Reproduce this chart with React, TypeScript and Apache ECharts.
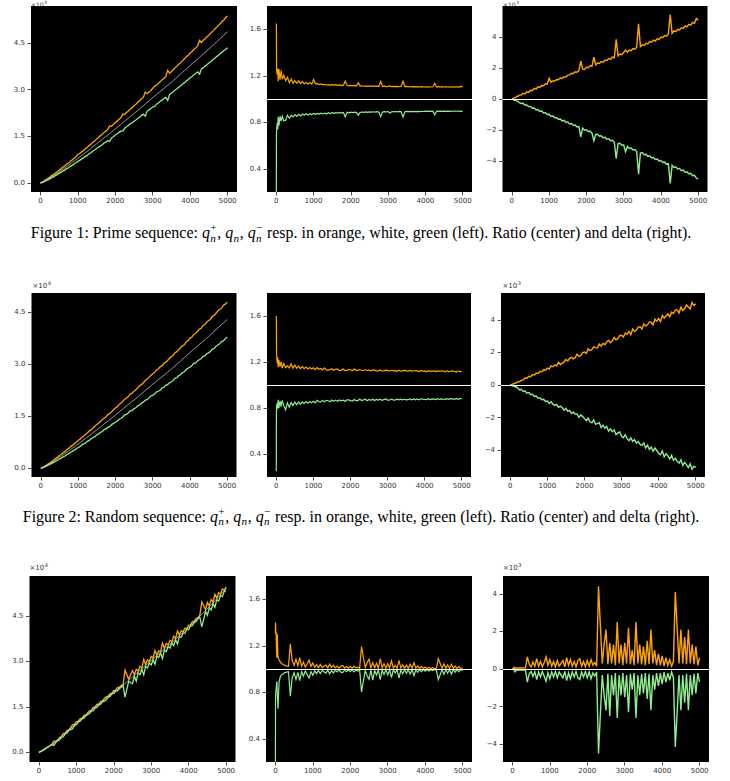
import React, { useEffect, useRef } from "react";
import * as echarts from "echarts";

// sample indices n (shared by all three sequences)
const N = [
  1, 2, 4, 7, 10, 15, 20, 30, 40, 50, 70, 100, 130, 160, 200,
  250, 300, 350, 400, 450, 500, 550, 600, 650, 700, 750, 800, 850, 900, 950, 1000,
  1050, 1100, 1150, 1200, 1250, 1300, 1350, 1400, 1450, 1500,
  1550, 1600, 1650, 1700, 1750, 1800, 1850, 1900, 1950, 2000,
  2050, 2100, 2150, 2200, 2250, 2300, 2350, 2400, 2450, 2500,
  2550, 2600, 2650, 2700, 2750, 2800, 2850, 2900, 2950, 3000,
  3050, 3100, 3150, 3200, 3250, 3300, 3350, 3400, 3450, 3500,
  3550, 3600, 3650, 3700, 3750, 3800, 3850, 3900, 3950, 4000,
  4050, 4100, 4150, 4200, 4250, 4300, 4350, 4400, 4450, 4500,
  4550, 4600, 4650, 4700, 4750, 4800, 4850, 4900, 4950, 5000,
];

// Figure 1: prime sequence q_n and deltas q_n^+ - q_n, q_n^- - q_n
const PRIME_Q = [
  2, 3, 7, 17, 29, 47, 71, 113, 173, 229, 349, 541, 733, 941, 1223,
  1583, 1987, 2357, 2741, 3181, 3571, 3989, 4409, 4831, 5279, 5693, 6133, 6571, 6997, 7477, 7919,
  8369, 8831, 9293, 9739, 10177, 10663, 11113, 11657, 12097, 12553,
  13037, 13499, 13993, 14519, 14947, 15401, 15887, 16381, 16871, 17389,
  17863, 18353, 18839, 19403, 19891, 20359, 20849, 21377, 21841, 22307,
  22817, 23321, 23833, 24391, 24851, 25373, 25913, 26371, 26903, 27449,
  27919, 28411, 28921, 29401, 29927, 30389, 30893, 31397, 31891, 32363,
  32933, 33493, 33997, 34513, 35059, 35617, 36161, 36697, 37253, 37813,
  38351, 38873, 39371, 39901, 40433, 40949, 41491, 42013, 42533, 43051,
  43591, 44201, 44741, 45307, 45863, 46439, 46997, 47527, 48073, 48611,
];
const PRIME_DPLUS = [
  1.3, 1.9, 3, 5, 7, 11, 15, 25, 45, 35, 90, 90, 180, 160, 250,
  250, 370, 330, 470, 430, 560, 540, 690, 640, 790, 750, 870, 850, 980, 960, 1330,
  1090, 1170, 1160, 1260, 1240, 1350, 1320, 1440, 1420, 1540,
  1560, 1660, 1640, 1750, 1720, 1830, 2450, 1920, 1900, 2040,
  2020, 2140, 2110, 2700, 2200, 2320, 2290, 2420, 2380, 2510,
  2480, 2610, 2570, 2700, 2660, 3850, 2780, 2900, 2860, 3000,
  3150, 3020, 3160, 3120, 3250, 3210, 3340, 4850, 3380, 3500,
  3460, 3600, 3560, 3700, 3660, 3800, 3740, 3880, 3840, 3990,
  3950, 4100, 4060, 4200, 5450, 4240, 4390, 4340, 4490, 4450,
  4600, 4560, 4720, 4660, 4820, 4760, 4940, 4880, 5200, 5080,
];
const PRIME_DMINUS = [
  -1.6, -1.5, -2.1, -4.8, -7.5, -11, -16, -23, -45, -35, -80, -80, -140, -140, -230,
  -290, -280, -390, -380, -490, -480, -600, -580, -700, -680, -800, -780, -900, -880, -1000, -980,
  -1120, -1090, -1210, -1190, -1310, -1290, -1410, -1380, -1510, -1480,
  -1610, -1580, -1700, -1680, -1800, -1780, -2450, -1880, -2010, -1980,
  -2100, -2080, -2200, -2700, -2300, -2280, -2400, -2370, -2500, -2470,
  -2590, -2560, -2690, -2660, -2790, -3850, -2880, -2860, -2990, -2960,
  -3400, -3060, -3190, -3160, -3290, -3260, -3390, -4850, -3490, -3460,
  -3600, -3570, -3700, -3670, -3800, -3770, -3900, -3870, -4000, -3970,
  -4100, -4070, -4200, -4170, -5450, -4280, -4410, -4380, -4510, -4480,
  -4620, -4590, -4730, -4700, -4840, -4800, -4950, -4920, -5100, -5150,
];

// Figure 2: random sequence
const RANDOM_Q = [
  2, 4, 8, 15, 24, 40, 58, 96, 145, 195, 300, 470, 640, 820, 1070,
  1390, 1750, 2080, 2410, 2800, 3140, 3510, 3880, 4250, 4650, 5010, 5400, 5780, 6160, 6580, 6970,
  7360, 7770, 8180, 8570, 8960, 9380, 9780, 10260, 10650, 11050,
  11470, 11880, 12310, 12780, 13150, 13550, 13980, 14420, 14850, 15300,
  15720, 16150, 16580, 17070, 17500, 17920, 18350, 18810, 19220, 19630,
  20080, 20520, 20970, 21460, 21870, 22330, 22800, 23210, 23670, 24150,
  24570, 25000, 25450, 25870, 26340, 26740, 27190, 27630, 28060, 28480,
  28980, 29470, 29920, 30370, 30850, 31340, 31820, 32290, 32780, 33280,
  33750, 34210, 34650, 35110, 35580, 36040, 36510, 36970, 37430, 37880,
  38360, 38900, 39370, 39870, 40360, 40870, 41360, 41820, 42300, 42780,
];
const RANDOM_DPLUS = [
  1.2, 2.4, 4, 4.5, 6, 9, 12, 18, 35, 30, 65, 75, 130, 120, 200,
  210, 290, 310, 440, 410, 540, 510, 640, 610, 740, 710, 840, 810, 940, 910, 1040,
  980, 1170, 1120, 1230, 1180, 1400, 1260, 1330, 1420, 1570,
  1480, 1640, 1700, 1610, 1680, 1890, 1760, 1820, 1990, 2030,
  1950, 2230, 2120, 2180, 2350, 2300, 2280, 2520, 2390, 2560,
  2480, 2650, 2750, 2600, 2700, 2920, 2780, 2850, 3040, 3060,
  2950, 3200, 3120, 3300, 3090, 3450, 3300, 3380, 3560, 3580,
  3440, 3760, 3620, 3700, 3880, 3860, 3700, 4050, 3930, 4090,
  3900, 4280, 4120, 4250, 4370, 4200, 4480, 4400, 4600, 4620,
  4430, 4800, 4580, 4700, 4920, 4800, 4680, 5080, 4900, 4990,
];
const RANDOM_DMINUS = [
  -1.5, -1.6, -2, -3, -4.5, -7, -10, -15, -30, -25, -60, -65, -120, -110, -190,
  -300, -270, -400, -370, -500, -470, -600, -570, -710, -680, -810, -780, -910, -880, -1010, -990,
  -1140, -1030, -1180, -1260, -1200, -1370, -1300, -1400, -1550, -1440,
  -1620, -1560, -1750, -1660, -1800, -1780, -1990, -1850, -1930, -2070,
  -2190, -2030, -2260, -2330, -2150, -2410, -2380, -2320, -2620, -2470,
  -2660, -2550, -2840, -2700, -2870, -2760, -3050, -2960, -2880, -3160,
  -3240, -3060, -3300, -3420, -3250, -3470, -3360, -3580, -3480, -3660,
  -3710, -3560, -3870, -3700, -3960, -3820, -4080, -3880, -4030, -4200,
  -4290, -4050, -4420, -4230, -4360, -4560, -4330, -4640, -4500, -4700,
  -4810, -4600, -4940, -4760, -4900, -5080, -4850, -5180, -5010, -5060,
];

// third sequence (bottom row)
const SEQ3_Q = [
  2, 3, 8, 18, 30, 60, 90, 150, 230, 300, 440, 650, 870, 1100, 1400,
  1800, 2200, 2610, 3000, 3440, 3900, 4470, 5040, 5600, 6180, 6760, 7320, 7880, 8460, 9030, 9600,
  10120, 10650, 11160, 11690, 12200, 12710, 13240, 13760, 14270, 14800,
  15310, 15830, 16330, 16850, 17350, 17870, 18370, 18880, 19400, 19900,
  20360, 20830, 21280, 21750, 22200, 22720, 23270, 23800, 24360, 24900,
  25440, 25990, 26520, 27070, 27600, 28150, 28680, 29230, 29760, 30300,
  30840, 31390, 31920, 32470, 33000, 33550, 34080, 34630, 35160, 35700,
  36260, 36830, 37380, 37950, 38500, 39070, 39620, 40190, 40740, 41300,
  41910, 42530, 43130, 43750, 44350, 44970, 45570, 46190, 46790, 47400,
  48060, 48730, 49380, 50050, 50700, 51370, 52020, 52690, 53340, 54000,
];
const SEQ3_DPLUS = [
  0.6, 1.2, 3, 7, 10, 20, 28, 25, 22, 90, 50, 50, 55, 50, 60,
  55, 60, 60, 650, 250, 120, 380, 150, 550, 150, 400, 120, 350, 650, 200, 500,
  150, 400, 120, 450, 150, 300, 450, 120, 600, 200,
  500, 150, 400, 120, 450, 550, 150, 400, 120, 450,
  150, 500, 200, 350, 150, 4400, 2300, 300, 1300, 2100,
  250, 1400, 300, 1300, 200, 2500, 300, 1300, 200, 1400,
  300, 2200, 250, 1000, 200, 2500, 300, 1300, 250, 1200,
  200, 1500, 250, 2100, 300, 1000, 200, 800, 200, 700,
  150, 600, 200, 500, 150, 400, 4100, 2200, 300, 2100,
  300, 1700, 250, 2100, 300, 1300, 250, 1200, 200, 600,
];
const SEQ3_DMINUS = [
  -1.6, -2.2, -2.5, -4, -6, -12, -16, -20, -25, -60, -150, -70, -60, -55, -60,
  -55, -60, -60, -700, -250, -130, -400, -150, -560, -150, -420, -130, -380, -650, -200, -520,
  -160, -420, -130, -470, -160, -320, -470, -130, -620, -210,
  -520, -160, -420, -130, -470, -560, -160, -420, -130, -470,
  -160, -520, -210, -370, -160, -4500, -2400, -320, -1400, -2200,
  -260, -2500, -320, -1400, -220, -2600, -320, -1400, -220, -1500,
  -320, -2300, -260, -1100, -220, -2600, -320, -1400, -260, -1300,
  -220, -1600, -260, -2200, -320, -1100, -220, -900, -220, -800,
  -160, -700, -220, -600, -160, -450, -4150, -2300, -320, -2200,
  -320, -1800, -260, -2200, -320, -1400, -260, -1300, -220, -700,
];

const X_TICKS = [0, 1000, 2000, 3000, 4000, 5000];
const LEFT_TICKS = [0, 15000, 30000, 45000];
const RATIO_TICKS = [0.4, 0.8, 1.2, 1.6];
const DELTA_TICKS = [-4000, -2000, 0, 2000, 4000];
const CAPTION_NAMES = ["Prime", "Random"];

const ORANGE = "#ffa500";
const GREEN = "#90ee90";
const WHITE = "#ffffff";
const LABEL_FONT = "DejaVu Sans";
const SERIF = "Liberation Serif";

const ROWS = [
  { q: PRIME_Q, dp: PRIME_DPLUS, dm: PRIME_DMINUS, top: 6, h: 186,
    a: { left: 31, w: 206, min: -2900, max: 56900 },
    b: { left: 267, w: 205 },
    c: { left: 502.5, w: 205, lim: 6000 } },
  { q: RANDOM_Q, dp: RANDOM_DPLUS, dm: RANDOM_DMINUS, top: 293, h: 184,
    a: { left: 31.5, w: 205, min: -2500, max: 50400 },
    b: { left: 267, w: 204 },
    c: { left: 501, w: 204, lim: 5660 } },
  { q: SEQ3_Q, dp: SEQ3_DPLUS, dm: SEQ3_DMINUS, top: 576, h: 186,
    a: { left: 29.5, w: 206, min: -3200, max: 58200 },
    b: { left: 266, w: 206 },
    c: { left: 503, w: 206, lim: 4950 } },
];

const fmtMinus = (s: string) => s.replace("-", "\u2212");

function buildOption() {
  const grids: any[] = [];
  const xAxes: any[] = [];
  const yAxes: any[] = [];
  const series: any[] = [];
  const labelStyle = { fontSize: 7, color: "#333", fontFamily: LABEL_FONT };
  const tick = (vals: number[]) => ({
    show: true, length: 3.5, customValues: vals,
    lineStyle: { color: "#222", width: 0.8 },
  });

  ROWS.forEach((row, r) => {
    const panels = [
      { left: row.a.left, w: row.a.w, min: row.a.min, max: row.a.max, ticks: LEFT_TICKS,
        fmt: (v: number) => (v / 10000).toFixed(1) },
      { left: row.b.left, w: row.b.w, min: 0.2, max: 1.8, ticks: RATIO_TICKS,
        fmt: (v: number) => v.toFixed(1) },
      { left: row.c.left, w: row.c.w, min: -row.c.lim, max: row.c.lim, ticks: DELTA_TICKS,
        fmt: (v: number) => fmtMinus(String(Math.round(v / 1000))) },
    ];
    panels.forEach((p, k) => {
      const gi = r * 3 + k;
      grids.push({
        left: p.left, top: row.top, width: p.w, height: row.h,
        show: true, backgroundColor: "#000", borderWidth: 0, containLabel: false,
      });
      xAxes.push({
        type: "value", gridIndex: gi, min: -250, max: 5250,
        splitLine: { show: false },
        axisLine: { show: false, onZero: false },
        axisTick: tick(X_TICKS),
        axisLabel: { ...labelStyle, margin: 5.5, customValues: X_TICKS, formatter: (v: number) => String(v) },
      });
      yAxes.push({
        type: "value", gridIndex: gi, min: p.min, max: p.max,
        splitLine: { show: false },
        axisLine: { show: false, onZero: false },
        axisTick: tick(p.ticks),
        axisLabel: { ...labelStyle, margin: 6, customValues: p.ticks, formatter: p.fmt },
      });
    });

    const qPlus = N.map((n, i) => [n, row.q[i] + row.dp[i]]);
    const qMid = N.map((n, i) => [n, row.q[i]]);
    const qMinus = N.map((n, i) => [n, row.q[i] + row.dm[i]]);
    const ratioPlus = N.map((n, i) => [n, (row.q[i] + row.dp[i]) / row.q[i]]);
    const ratioMinus = N.map((n, i) => [n, (row.q[i] + row.dm[i]) / row.q[i]]);
    const deltaPlus = N.map((n, i) => [n, row.dp[i]]);
    const deltaMinus = N.map((n, i) => [n, row.dm[i]]);

    const line = (gi: number, data: number[][], color: string, width: number, extra: any = {}) => ({
      type: "line", xAxisIndex: gi, yAxisIndex: gi, data, showSymbol: false, symbol: "none",
      silent: true, lineStyle: { color, width, join: "miter" }, itemStyle: { color }, ...extra,
    });
    const hline = (y: number) => ({
      markLine: {
        silent: true, symbol: ["none", "none"], label: { show: false },
        lineStyle: { color: WHITE, width: 1, type: "solid" }, data: [{ yAxis: y }],
      },
    });
    const g0 = r * 3;
    series.push(line(g0, qPlus, ORANGE, 1.3));
    series.push(line(g0, qMid, "#dddddd", 0.7));
    series.push(line(g0, qMinus, GREEN, 1.3));
    series.push(line(g0 + 1, ratioPlus, ORANGE, 1.2));
    series.push(line(g0 + 1, ratioMinus, GREEN, 1.2, hline(1)));
    series.push(line(g0 + 2, deltaPlus, ORANGE, 1.4));
    series.push(line(g0 + 2, deltaMinus, GREEN, 1.4, hline(0)));
  });

  return { grids, xAxes, yAxes, series };
}

function buildGraphics() {
  const canvas = document.createElement("canvas");
  const ctx = canvas.getContext("2d")!;
  const tw = (t: string, size: number, italic: boolean, family = SERIF) => {
    ctx.font = `${italic ? "italic " : ""}${size}px "${family}"`;
    return ctx.measureText(t).width;
  };
  const els: any[] = [];
  const txt = (text: string, x: number, y: number, size: number, italic: boolean,
    family = SERIF, fill = "#000") => ({
    type: "text", x, y, silent: true, z: 100,
    style: { text, fontSize: size, fontFamily: family, fontStyle: italic ? "italic" : "normal",
      fill, textAlign: "left", textVerticalAlign: "middle" },
  });

  type Seg = { rm?: string; q?: string };
  const captionSegs = (name: string, num: number): Seg[] => [
    { rm: `Figure ${num}: ${name} sequence: ` },
    { q: "+" }, { rm: ", " }, { q: "" }, { rm: ", " }, { q: "\u2212" },
    { rm: " resp. in orange, white, green (left). Ratio (center) and delta (right)." },
  ];
  const segWidth = (s: Seg, S: number) => {
    if (s.rm !== undefined) return tw(s.rm, S, false);
    const sub = Math.max(tw("n", 0.7 * S, true), s.q ? tw(s.q, 0.7 * S, false) : 0);
    return tw("q", S, true) + sub + 0.06 * S;
  };
  const total = (segs: Seg[], S: number) => segs.reduce((a, s) => a + segWidth(s, S), 0);

  const ref = captionSegs(CAPTION_NAMES[0], 1);
  const S = (10 * 661) / total(ref, 10);
  const centers = [232.6, 516];
  CAPTION_NAMES.forEach((name, idx) => {
    const segs = captionSegs(name, idx + 1);
    const W = total(segs, S);
    let x = 361 - W / 2;
    const yc = centers[idx];
    segs.forEach((s) => {
      if (s.rm !== undefined) {
        els.push(txt(s.rm, x, yc, S, false));
      } else {
        els.push(txt("q", x, yc, S, true));
        const xs = x + tw("q", S, true) + 0.02 * S;
        els.push(txt("n", xs, yc + 0.32 * S, 0.7 * S, true));
        if (s.q) els.push(txt(s.q, xs, yc - 0.34 * S, 0.7 * S, false));
      }
      x += segWidth(s, S);
    });
  });

  // offset texts (x10^4 / x10^3)
  const offs = [
    { y: 4.6, xl: 31, xr: 503, size: 6, up: 0.38 },
    { y: 286, xl: 32.5, xr: 502.5, size: 7, up: 0.42 },
    { y: 568, xl: 29.5, xr: 503, size: 7, up: 0.42 },
  ];
  offs.forEach((o) => {
    const baseW = tw("\u00d710", o.size, false, LABEL_FONT);
    const pairs: [string, number][] = [["4", o.xl], ["3", o.xr]];
    pairs.forEach(([e, x]) => {
      els.push(txt("\u00d710", x, o.y, o.size, false, LABEL_FONT, "#333"));
      els.push(txt(e, x + baseW + 0.6, o.y - o.up * o.size, 0.72 * o.size, false, LABEL_FONT, "#333"));
    });
  });
  return els;
}

export default function App() {
  const ref = useRef<HTMLDivElement>(null);
  useEffect(() => {
    if (!ref.current) return;
    const chart = echarts.init(ref.current, undefined, { renderer: "svg" });
    const { grids, xAxes, yAxes, series } = buildOption();
    chart.setOption({
      animation: false,
      backgroundColor: "#fff",
      grid: grids,
      xAxis: xAxes,
      yAxis: yAxes,
      series,
      graphic: buildGraphics(),
    });
    return () => chart.dispose();
  }, []);
  return (
    <div
      ref={ref}
      style={{ position: "absolute", left: 0, top: 0, width: 730, height: 781 }}
    />
  );
}
